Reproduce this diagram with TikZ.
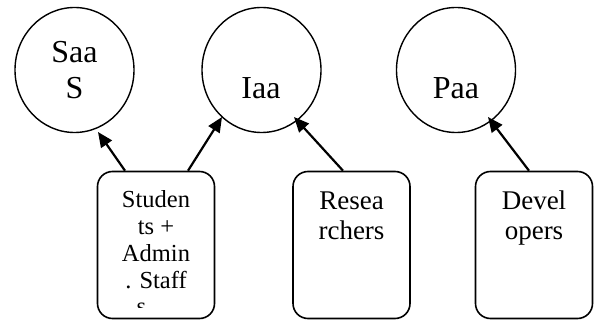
\documentclass[tikz,border=0pt]{standalone}
\usepackage{fontspec}
\setmainfont{Liberation Serif}
\usetikzlibrary{shapes.geometric,arrows.meta}
\newcommand{\lines}[1]{\begin{tabular}[t]{@{}c@{}}#1\end{tabular}}
\begin{document}
\begin{tikzpicture}[x=1pt,y=-1pt,
  svc/.style={draw, ellipse, minimum width=119pt, minimum height=125pt, inner sep=0pt, line width=1.4pt},
  usr/.style={draw, rounded corners=15pt, minimum width=117pt, minimum height=147pt, inner sep=0pt, line width=1.6pt},
  link/.style={line width=2.2pt, -{Triangle[length=15pt,width=13pt]}},
  ctext/.style={anchor=base, inner sep=0pt, font=\fontsize{32}{36}\selectfont},
  btext/.style={anchor=base, inner sep=0pt, font=\fontsize{27}{30}\selectfont},
  stext/.style={anchor=base, inner sep=0pt, font=\fontsize{24.5}{26.7}\selectfont}]
\useasboundingbox (0,0) rectangle (594,320);

% service circles
\node[svc] (s) at (74.5,70) {};
\node[svc] (i) at (261.5,70) {};
\node[svc] (p) at (456,70) {};
\node[ctext] (st) at (74.5,63) {\lines{Saa\\S}};
\node[ctext] (it) at (261,99) {Iaa};
\node[ctext] (pt) at (456,99) {Paa};

% user boxes
\node[usr] (b1) at (156,245) {};
\node[usr] (b2) at (351.5,245) {};
\node[usr] (b3) at (534,245) {};
\begin{scope}
  \clip (97,171) rectangle (215,307.5);
  \node[stext] (b1t) at (156,208) {\lines{Studen\\ts +\\Admin\\. Staff\\s\kern29pt}};
\end{scope}
\node[btext] (b2t) at (351.5,210) {\lines{Resea\\rchers}};
\node[btext] (b3t) at (534,210) {\lines{Devel\\opers}};

% arrow tips
\coordinate (ts) at (98,132);
\coordinate (ti1) at (222,117);
\coordinate (ti2) at (294,117);
\coordinate (tp) at (488,117);

\draw[link] ([xshift=-31pt]b1.north) -- (ts);
\draw[link] ([xshift=32pt]b1.north) -- (ti1);
\draw[link] ([xshift=-8.5pt]b2.north) -- (ti2);
\draw[link] ([xshift=-5pt]b3.north) -- (tp);
\end{tikzpicture}
\end{document}
